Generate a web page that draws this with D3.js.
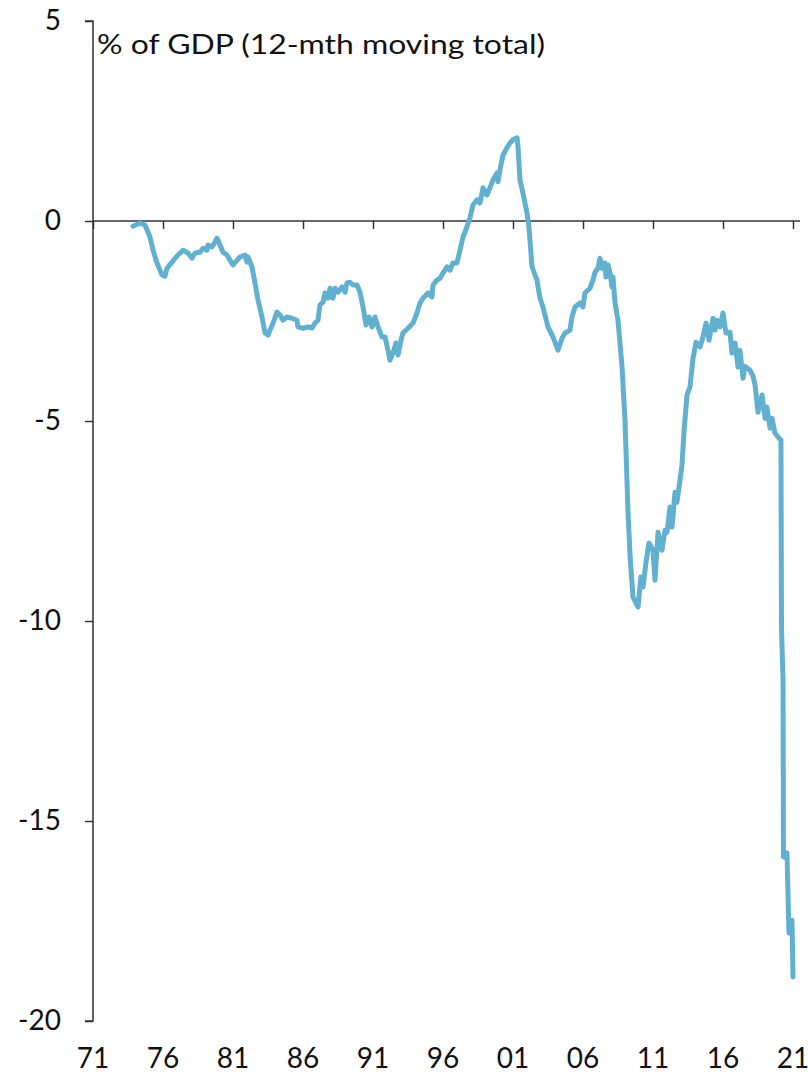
<!DOCTYPE html>
<html>
<head>
<meta charset="utf-8">
<script src="https://cdn.jsdelivr.net/npm/d3@7"></script>
<style>
  html, body { margin: 0; padding: 0; background: #fff; }
  svg { display: block; }
  text { font-family: Lato, "Noto Sans", sans-serif; fill: #111; }
</style>
</head>
<body>
<svg id="chart" width="808" height="1079"></svg>
<script>
// Decimal year of each observation
const years = [
  1973.86,1974.36,1974.71,1975.07,1975.29,1975.57,1975.93,1976.14,1976.29,1976.64,
  1977.07,1977.43,1977.79,1978.07,1978.29,1978.64,1978.86,1979.14,1979.21,1979.50,
  1979.71,1979.86,1980.07,1980.29,1980.57,1980.79,1981.00,1981.29,1981.50,1981.86,
  1982.00,1982.07,1982.36,1982.57,1982.79,1983.07,1983.29,1983.50,1983.86,1984.14,
  1984.36,1984.57,1984.86,1985.21,1985.57,1985.64,1986.00,1986.36,1986.64,1986.86,
  1987.07,1987.21,1987.43,1987.57,1987.79,1987.93,1988.14,1988.29,1988.50,1988.79,
  1989.00,1989.14,1989.36,1989.57,1989.86,1990.07,1990.29,1990.50,1990.71,1990.93,
  1991.14,1991.36,1991.64,1991.86,1992.07,1992.21,1992.43,1992.64,1992.79,1993.00,
  1993.14,1993.50,1993.86,1994.14,1994.36,1994.57,1994.93,1995.21,1995.29,1995.57,
  1995.79,1996.00,1996.29,1996.50,1996.71,1997.00,1997.21,1997.43,1997.71,1997.93,
  1998.14,1998.43,1998.64,1998.86,1999.14,1999.36,1999.57,1999.86,1999.93,2000.07,
  2000.29,2000.57,2000.79,2001.00,2001.29,2001.36,2001.50,2001.71,2002.00,2002.14,
  2002.36,2002.71,2002.93,2003.14,2003.50,2003.86,2004.21,2004.50,2004.71,2005.07,
  2005.21,2005.43,2005.79,2006.00,2006.14,2006.50,2006.71,2006.86,2007.07,2007.21,
  2007.36,2007.57,2007.64,2007.79,2007.93,2008.07,2008.14,2008.29,2008.50,2008.79,
  2009.00,2009.21,2009.36,2009.57,2009.79,2009.93,2010.14,2010.29,2010.50,2010.71,
  2011.00,2011.14,2011.36,2011.64,2011.86,2012.00,2012.21,2012.36,2012.57,2012.71,
  2012.93,2013.07,2013.21,2013.43,2013.64,2013.86,2014.07,2014.36,2014.57,2014.79,
  2015.00,2015.29,2015.43,2015.57,2015.79,2016.00,2016.21,2016.50,2016.64,2016.86,
  2017.07,2017.21,2017.43,2017.57,2017.93,2018.14,2018.29,2018.50,2018.79,2019.00,
  2019.14,2019.36,2019.50,2019.71,2019.93,2020.14,2020.18,2020.29,2020.32,2020.57,
  2020.71,2020.93,2021.00
];
// Budget balance, % of GDP (12-month moving total)
const balance = [
  -0.13,-0.05,-0.10,-0.40,-0.73,-1.05,-1.35,-1.38,-1.18,-1.03,
  -0.85,-0.73,-0.80,-0.93,-0.80,-0.78,-0.68,-0.73,-0.60,-0.65,
  -0.53,-0.43,-0.60,-0.78,-0.85,-0.98,-1.10,-0.98,-0.90,-0.85,
  -1.03,-0.90,-1.15,-1.55,-1.98,-2.40,-2.80,-2.85,-2.55,-2.28,
  -2.35,-2.48,-2.40,-2.43,-2.48,-2.65,-2.68,-2.65,-2.68,-2.55,
  -2.48,-2.10,-2.03,-1.80,-1.93,-1.68,-1.93,-1.68,-1.78,-1.65,
  -1.78,-1.55,-1.53,-1.60,-1.60,-1.78,-2.15,-2.60,-2.40,-2.65,
  -2.40,-2.65,-2.90,-2.90,-3.23,-3.48,-3.30,-3.05,-3.35,-2.98,
  -2.80,-2.68,-2.55,-2.30,-2.05,-1.93,-1.80,-1.90,-1.60,-1.48,
  -1.43,-1.30,-1.15,-1.23,-1.05,-1.05,-0.73,-0.40,-0.15,0.08,
  0.40,0.53,0.45,0.83,0.65,0.83,1.03,1.20,0.98,1.28,
  1.65,1.83,1.95,2.03,2.08,1.85,1.03,0.70,0.20,-0.15,
  -1.15,-1.48,-1.93,-2.15,-2.65,-2.90,-3.23,-2.93,-2.80,-2.73,
  -2.40,-2.15,-2.05,-2.15,-1.80,-1.68,-1.48,-1.28,-1.18,-0.93,
  -1.18,-1.05,-1.40,-1.10,-1.30,-1.65,-1.40,-2.05,-2.48,-3.65,
  -4.98,-7.23,-8.35,-9.40,-9.55,-9.65,-8.90,-9.15,-8.53,-8.05,
  -8.23,-8.98,-7.78,-8.23,-7.73,-7.78,-7.15,-7.65,-6.78,-7.03,
  -6.48,-6.10,-5.28,-4.35,-4.15,-3.43,-3.03,-3.15,-2.90,-2.55,
  -2.98,-2.43,-2.73,-2.48,-2.65,-2.30,-2.80,-2.78,-3.30,-3.05,
  -3.65,-3.23,-3.93,-3.63,-3.73,-3.88,-4.10,-4.78,-4.35,-4.93,
  -4.65,-5.18,-4.93,-5.30,-5.40,-5.48,-10.23,-11.48,-15.90,-15.80,
  -17.80,-17.48,-18.90
];
const yTicks = [5, 0, -5, -10, -15, -20];
const xTickYears = [1971, 1976, 1981, 1986, 1991, 1996, 2001, 2006, 2011, 2016, 2021];
const xTickLabels = ["71", "76", "81", "86", "91", "96", "01", "06", "11", "16", "21"];
const yLabel = "% of GDP (12-mth moving total)";

const svg = d3.select("#chart");
const x = d3.scaleLinear().domain([1971, 2021]).range([93, 793]);
const y = d3.scaleLinear().domain([-20, 5]).range([1021, 21]);
const axisColor = "#333";

// Y axis
const yAxis = svg.append("g").attr("transform", `translate(${x(1971)},0)`)
  .call(d3.axisLeft(y).tickValues(yTicks).tickSize(8).tickPadding(24).tickFormat(d3.format("d")));
yAxis.select(".domain").attr("stroke", axisColor).attr("stroke-width", 1.5).attr("d", `M-8,${y(5)}H0V${y(-20)}H-8`);
yAxis.selectAll(".tick line").attr("stroke", axisColor).attr("stroke-width", 1.5);
yAxis.selectAll(".tick text").attr("font-size", 28).attr("fill", "#111")
  .attr("font-family", "Lato, 'Noto Sans', sans-serif").text(d => d < 0 ? "-" + Math.abs(d) : d);

// X axis along zero line
const xAxis = svg.append("g").attr("transform", `translate(0,${y(0)})`)
  .call(d3.axisBottom(x).tickValues(xTickYears).tickSize(8).tickFormat(""));
xAxis.select(".domain").attr("stroke", axisColor).attr("stroke-width", 1.5).attr("d", `M${x(1971)},0H${x(2021) + 7}`);
xAxis.selectAll(".tick line").attr("stroke", axisColor).attr("stroke-width", 1.5);

// X labels at bottom
svg.append("g").selectAll("text").data(xTickYears).join("text")
  .attr("x", d => x(d)).attr("y", 1068).attr("text-anchor", "middle")
  .attr("font-size", 28).text((d, i) => xTickLabels[i]);

// Title / unit label
svg.append("text").attr("x", 97).attr("y", 54).attr("font-size", 27)
  .attr("font-family", "'DejaVu Sans', sans-serif")
  .attr("textLength", 448).attr("lengthAdjust", "spacingAndGlyphs").text(yLabel);

// Line
const data = years.map((yr, i) => ({ yr, v: balance[i] }));
svg.append("path").datum(data)
  .attr("fill", "none").attr("stroke", "#62b0d0").attr("stroke-width", 5)
  .attr("stroke-linejoin", "round").attr("stroke-linecap", "round")
  .attr("d", d3.line().x(d => x(d.yr)).y(d => y(d.v)));
</script>
</body>
</html>
